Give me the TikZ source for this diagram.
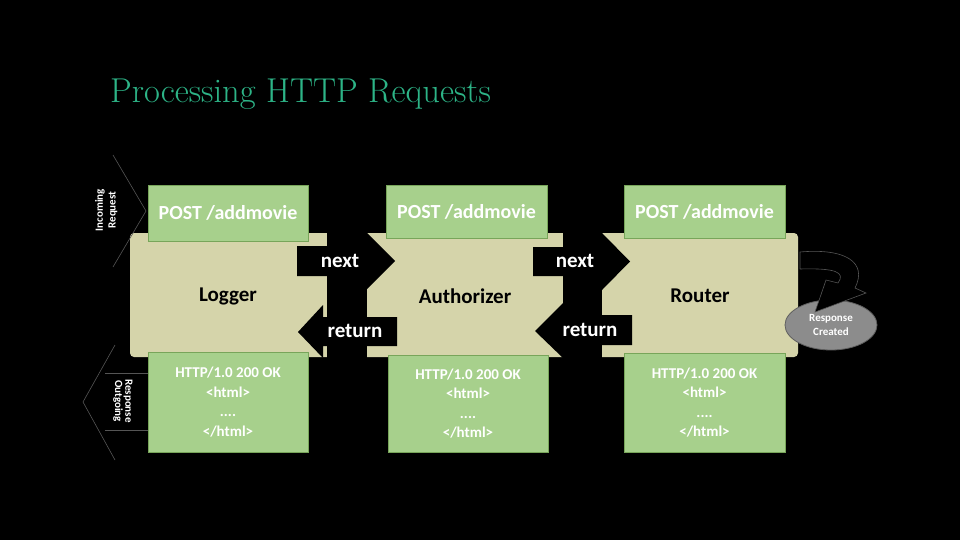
\documentclass[tikz,border=0pt]{standalone}
\usepackage{fontspec}
\newfontfamily\carlito{Carlito}
\usepackage{tikz}
\usetikzlibrary{shapes.geometric}

\definecolor{titlegreen}{RGB}{45,180,135}
\definecolor{boxgreen}{RGB}{167,208,140}
\definecolor{boxline}{RGB}{120,165,90}
\definecolor{bandtan}{RGB}{213,212,170}
\definecolor{faintline}{RGB}{85,85,85}
\definecolor{bubblegray}{RGB}{140,140,140}
\definecolor{bubbleline}{RGB}{95,95,95}

\begin{document}
\begin{tikzpicture}[x=1pt, y=-1pt,
                msgbox/.style={rectangle, draw=boxline, fill=boxgreen, text=white, inner sep=0pt}, % Green request / response box
                postfont/.style={font=\carlito\bfseries\fontsize{20}{24}\selectfont}, % Request line
                replyfont/.style={font=\carlito\bfseries\fontsize{15}{19.5}\selectfont, align=center}, % Response lines
                stagename/.style={font=\carlito\bfseries\fontsize{21}{25}\selectfont, text=black}, % Middleware names
                flowtext/.style={font=\carlito\bfseries\fontsize{21}{25}\selectfont, text=white}, % next / return
                flowarrow/.style={fill=black}, % Black block arrows
                sidetext/.style={font=\carlito\bfseries\fontsize{11}{13}\selectfont, text=white, inner sep=0pt}, % Side labels
                faint/.style={draw=faintline, line width=0.6pt} % Barely visible outlines
                ]
                \useasboundingbox[fill=black] (0,0) rectangle (960,540);

                \node[anchor=base west, text=titlegreen, font=\fontsize{34.5}{40}\selectfont, inner sep=0pt] (title) at (110,103) {Processing HTTP Requests};

                % band behind the three stages
                \fill[bandtan, rounded corners=4pt] (130,233) rectangle (798,357);
                \fill[black] (327,230) rectangle (367,358);
                \fill[black] (563,230) rectangle (602,358);

                % request boxes
                \node[msgbox, postfont, minimum width=160pt, minimum height=56pt] (reqlog) at (228,213) {POST /addmovie};
                \node[msgbox, postfont, minimum width=161pt, minimum height=53pt] (reqauth) at (466.5,211.5) {POST /addmovie};
                \node[msgbox, postfont, minimum width=161pt, minimum height=53pt] (reqroute) at (704.5,211.5) {POST /addmovie};

                % response boxes
                \node[msgbox, replyfont, minimum width=160pt, minimum height=100pt] (reslog) at (228,402) {HTTP/1.0 200 OK\\<html>\\....\\</html>};
                \node[msgbox, replyfont, minimum width=160pt, minimum height=97pt] (resauth) at (468,403.5) {HTTP/1.0 200 OK\\<html>\\....\\</html>};
                \node[msgbox, replyfont, minimum width=161pt, minimum height=99pt] (resroute) at (704.5,402.5) {HTTP/1.0 200 OK\\<html>\\....\\</html>};

                % stage names
                \node[stagename] (logger) at (228,296) {Logger};
                \node[stagename] (authorizer) at (465,296) {Authorizer};
                \node[stagename] (router) at (700,296) {Router};

                % next / return arrows
                \fill[flowarrow] (297,246) -- (367,246) -- (367,233) -- (395,261) -- (367,289) -- (367,276) -- (297,276) -- cycle;
                \fill[flowarrow] (533,247) -- (602,247) -- (602,233) -- (630,261.5) -- (602,290) -- (602,276) -- (533,276) -- cycle;
                \fill[flowarrow] (298,332) -- (323,305) -- (323,317) -- (397,317) -- (397,346) -- (323,346) -- (323,358) -- cycle;
                \fill[flowarrow] (535,331) -- (563,303) -- (563,315) -- (632,315) -- (632,345) -- (563,345) -- (563,358) -- cycle;
                \node[flowtext] (nextA) at (340,261) {next};
                \node[flowtext] (nextB) at (575,261) {next};
                \node[flowtext] (returnA) at (355,331) {return};
                \node[flowtext] (returnB) at (590,330) {return};

                % incoming request
                \draw[faint] (113,155) -- (146,211) -- (113,267);
                \node[sidetext, rotate=90] (incoming) at (100,210) {Incoming};
                \node[sidetext, rotate=90] (request) at (113,210) {Request};

                % outgoing response
                \draw[faint] (115,345) -- (83,402) -- (115,460);
                \draw[faint] (105,373) -- (148,373);
                \draw[faint] (105,430) -- (148,430);
                \node[sidetext, rotate=-90] (outgoing) at (118,401) {Outgoing};
                \node[sidetext, rotate=-90] (response) at (128,401) {Response};

                % response created
                \node[ellipse, fill=bubblegray, draw=bubbleline, line width=0.8pt, minimum width=92pt, minimum height=50pt, inner sep=0pt,
                      text=white, align=center, font=\carlito\bfseries\fontsize{11}{13.5}\selectfont] (created) at (831,325) {Response\\Created};
                \filldraw[fill=black, faint] (800,252) .. controls (845,248) and (868,262) .. (855,288) -- (866,293) -- (815,312)
                    -- (826,280) -- (838,283) .. controls (846,272) and (835,268) .. (800,269) -- cycle;
            \end{tikzpicture}
\end{document}
